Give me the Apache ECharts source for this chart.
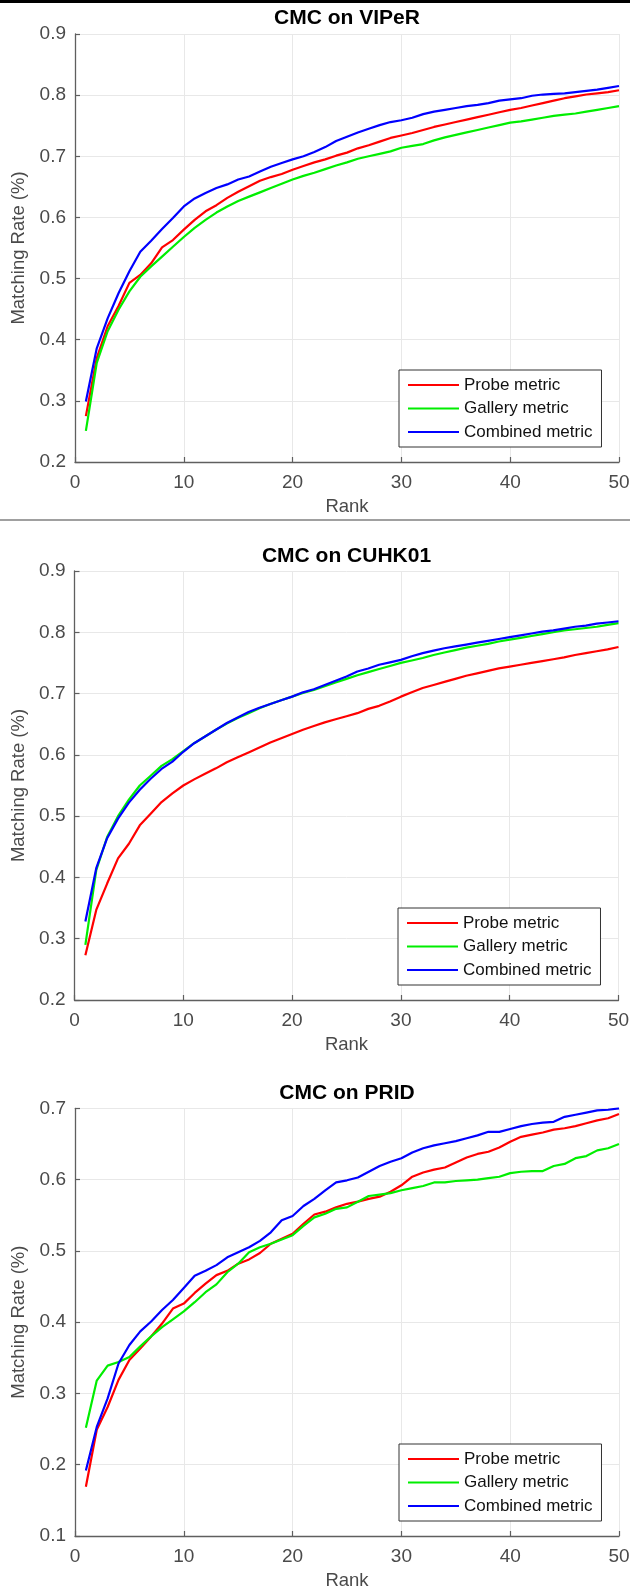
<!DOCTYPE html>
<html><head><meta charset="utf-8">
<script src="https://cdn.jsdelivr.net/npm/echarts@6/dist/echarts.min.js"></script>
<style>html,body{margin:0;padding:0;background:#fff;overflow:hidden;} #c{width:630px;height:1594px;}</style>
</head><body><div id="c"></div>
<script>
const ranks = [1,2,3,4,5,6,7,8,9,10,11,12,13,14,15,16,17,18,19,20,21,22,23,24,25,26,27,28,29,30,31,32,33,34,35,36,37,38,39,40,41,42,43,44,45,46,47,48,49,50];
const seriesNames = ['Probe metric','Gallery metric','Combined metric'];
const titles = ['CMC on VIPeR','CMC on CUHK01','CMC on PRID'];
const xTicks = [0,10,20,30,40,50];
const yMins = [0.2,0.2,0.1];
const yMaxs = [0.9,0.9,0.7];

const viperProbe = [0.275,0.370,0.422,0.455,0.493,0.506,0.525,0.551,0.563,0.580,0.596,0.610,0.620,0.632,0.642,0.651,0.660,0.666,0.671,0.678,0.684,0.690,0.695,0.701,0.706,0.713,0.718,0.724,0.730,0.734,0.738,0.743,0.748,0.752,0.756,0.760,0.764,0.768,0.772,0.776,0.779,0.783,0.787,0.791,0.795,0.798,0.801,0.803,0.805,0.808];
const viperGallery = [0.251,0.362,0.414,0.449,0.479,0.503,0.520,0.536,0.552,0.568,0.583,0.596,0.608,0.618,0.627,0.634,0.641,0.648,0.655,0.662,0.668,0.673,0.679,0.685,0.690,0.696,0.700,0.704,0.708,0.714,0.717,0.720,0.726,0.731,0.735,0.739,0.743,0.747,0.751,0.755,0.757,0.760,0.763,0.766,0.768,0.770,0.773,0.776,0.779,0.782];
const viperCombined = [0.299,0.386,0.435,0.476,0.512,0.544,0.562,0.581,0.599,0.618,0.631,0.640,0.648,0.654,0.662,0.667,0.675,0.683,0.689,0.695,0.700,0.707,0.715,0.725,0.732,0.739,0.745,0.751,0.756,0.759,0.763,0.769,0.773,0.776,0.779,0.782,0.784,0.787,0.791,0.793,0.795,0.799,0.801,0.802,0.803,0.805,0.807,0.809,0.812,0.815];

const cuhkProbe = [0.273,0.347,0.390,0.431,0.455,0.485,0.504,0.523,0.537,0.550,0.560,0.569,0.578,0.588,0.596,0.604,0.612,0.620,0.627,0.634,0.641,0.647,0.653,0.658,0.663,0.668,0.675,0.680,0.687,0.695,0.702,0.709,0.714,0.719,0.724,0.729,0.733,0.737,0.741,0.744,0.747,0.750,0.753,0.756,0.759,0.763,0.766,0.769,0.772,0.776];
const cuhkGallery = [0.290,0.412,0.466,0.500,0.527,0.550,0.566,0.582,0.593,0.606,0.619,0.630,0.641,0.651,0.660,0.668,0.676,0.683,0.689,0.695,0.701,0.706,0.712,0.718,0.724,0.730,0.735,0.740,0.745,0.750,0.754,0.758,0.763,0.767,0.771,0.775,0.778,0.781,0.785,0.788,0.791,0.794,0.797,0.800,0.803,0.805,0.807,0.809,0.812,0.815];
const cuhkCombined = [0.328,0.415,0.464,0.496,0.522,0.543,0.561,0.577,0.589,0.605,0.619,0.630,0.641,0.652,0.661,0.670,0.677,0.683,0.689,0.695,0.702,0.707,0.714,0.721,0.728,0.736,0.741,0.747,0.751,0.755,0.761,0.766,0.770,0.774,0.777,0.780,0.783,0.786,0.789,0.792,0.795,0.798,0.801,0.803,0.806,0.809,0.811,0.814,0.816,0.818];

const pridProbe = [0.169,0.249,0.281,0.319,0.347,0.363,0.380,0.398,0.419,0.426,0.441,0.454,0.466,0.472,0.482,0.488,0.497,0.510,0.517,0.524,0.538,0.551,0.555,0.561,0.566,0.569,0.573,0.576,0.583,0.592,0.604,0.610,0.614,0.617,0.624,0.631,0.636,0.639,0.645,0.653,0.660,0.663,0.666,0.670,0.672,0.675,0.679,0.683,0.686,0.692];
const pridGallery = [0.252,0.318,0.339,0.344,0.351,0.366,0.380,0.393,0.404,0.415,0.428,0.442,0.453,0.470,0.482,0.498,0.505,0.510,0.516,0.522,0.535,0.547,0.552,0.559,0.561,0.569,0.577,0.579,0.581,0.585,0.588,0.591,0.596,0.596,0.598,0.599,0.600,0.602,0.604,0.609,0.611,0.612,0.612,0.619,0.622,0.630,0.633,0.641,0.644,0.650];
const pridCombined = [0.192,0.253,0.293,0.342,0.368,0.387,0.401,0.417,0.431,0.448,0.465,0.472,0.480,0.491,0.498,0.505,0.514,0.526,0.543,0.549,0.563,0.573,0.585,0.596,0.599,0.603,0.611,0.619,0.625,0.630,0.638,0.644,0.648,0.651,0.654,0.658,0.662,0.667,0.667,0.671,0.675,0.678,0.680,0.681,0.688,0.691,0.694,0.697,0.698,0.700];

const panelData = [
  [viperProbe, viperGallery, viperCombined],
  [cuhkProbe, cuhkGallery, cuhkCombined],
  [pridProbe, pridGallery, pridCombined]
];

// layout (pixels)
const colors = ['#ff0000','#00ee00','#0000ff'];
const FONT = "'Liberation Sans', Arial, Helvetica, sans-serif";
const grids = [
  {left: 75, top: 34, width: 544, height: 428},
  {left: 74.5, top: 571, width: 544, height: 429},
  {left: 75, top: 1108.3, width: 544, height: 427.7}
];
const titleTops = [8, 545.5, 1082.5];
const legendPos = [
  {left: 399, top: 370},
  {left: 398, top: 908},
  {left: 399, top: 1444}
];

const axisGray = '#5f5f5f';
const textGray = '#4a4a4a';

const option = {
  backgroundColor: '#ffffff',
  animation: false,
  title: titles.map((t, i) => ({
    text: t, left: grids[i].left + grids[i].width / 2, top: titleTops[i], padding: 0,
    textAlign: 'center',
    textStyle: {fontFamily: FONT, fontSize: 21, fontWeight: 'bold', color: '#000'}
  })),
  legend: legendPos.map((p, i) => ({
    data: seriesNames, orient: 'vertical', left: p.left, top: p.top,
    backgroundColor: '#fff', borderColor: '#333', borderWidth: 1,
    padding: [6.5, 9, 6.5, 9], itemGap: 6.5, itemWidth: 51, itemHeight: 2,
    icon: 'rect', selectedMode: false,
    textStyle: {fontFamily: FONT, fontSize: 17, color: '#111'}
  })),
  grid: grids.map(g => Object.assign({containLabel: false, outerBoundsMode: 'none'}, g)),
  xAxis: grids.map((g, i) => ({
    type: 'value', gridIndex: i, min: 0, max: 50, interval: 10,
    name: 'Rank', nameLocation: 'middle', nameGap: 35,
    nameTextStyle: {fontFamily: FONT, fontSize: 18.5, color: textGray},
    axisLine: {show: true, lineStyle: {color: axisGray, width: 1.3}},
    axisTick: {show: true, inside: true, length: 5, lineStyle: {color: axisGray, width: 1.2}},
    axisLabel: {fontFamily: FONT, fontSize: 19, color: textGray, margin: 11},
    splitLine: {show: true, lineStyle: {color: '#e8e8e8', width: 1}}
  })),
  yAxis: grids.map((g, i) => ({
    type: 'value', gridIndex: i, min: yMins[i], max: yMaxs[i], interval: 0.1,
    name: 'Matching Rate (%)', nameLocation: 'middle', nameGap: 44, nameRotate: 90,
    nameTextStyle: {fontFamily: FONT, fontSize: 18.5, color: textGray},
    axisLine: {show: true, lineStyle: {color: axisGray, width: 1.3}},
    axisTick: {show: true, inside: true, length: 5, lineStyle: {color: axisGray, width: 1.2}},
    axisLabel: {fontFamily: FONT, fontSize: 19, color: textGray, margin: 9,
      formatter: v => v.toFixed(1)},
    splitLine: {show: true, lineStyle: {color: '#e8e8e8', width: 1}}
  })),
  series: [],
  graphic: [
    {type: 'rect', shape: {x: 0, y: 0, width: 630, height: 3}, style: {fill: '#000'}, silent: true},
    {type: 'line', shape: {x1: 0, y1: 520, x2: 630, y2: 520}, style: {stroke: '#808080', lineWidth: 1.5}, silent: true}
  ]
};

panelData.forEach((arrs, i) => {
  arrs.forEach((vals, k) => {
    option.series.push({
      type: 'line', name: seriesNames[k], xAxisIndex: i, yAxisIndex: i,
      data: ranks.map((r, j) => [r, vals[j]]),
      color: colors[k], symbol: 'none', showSymbol: false,
      lineStyle: {width: 2.2, color: colors[k]},
      z: 2 + k
    });
  });
});

const chart = echarts.init(document.getElementById('c'), null, {renderer: 'canvas'});
chart.setOption(option);
</script>
</body></html>
